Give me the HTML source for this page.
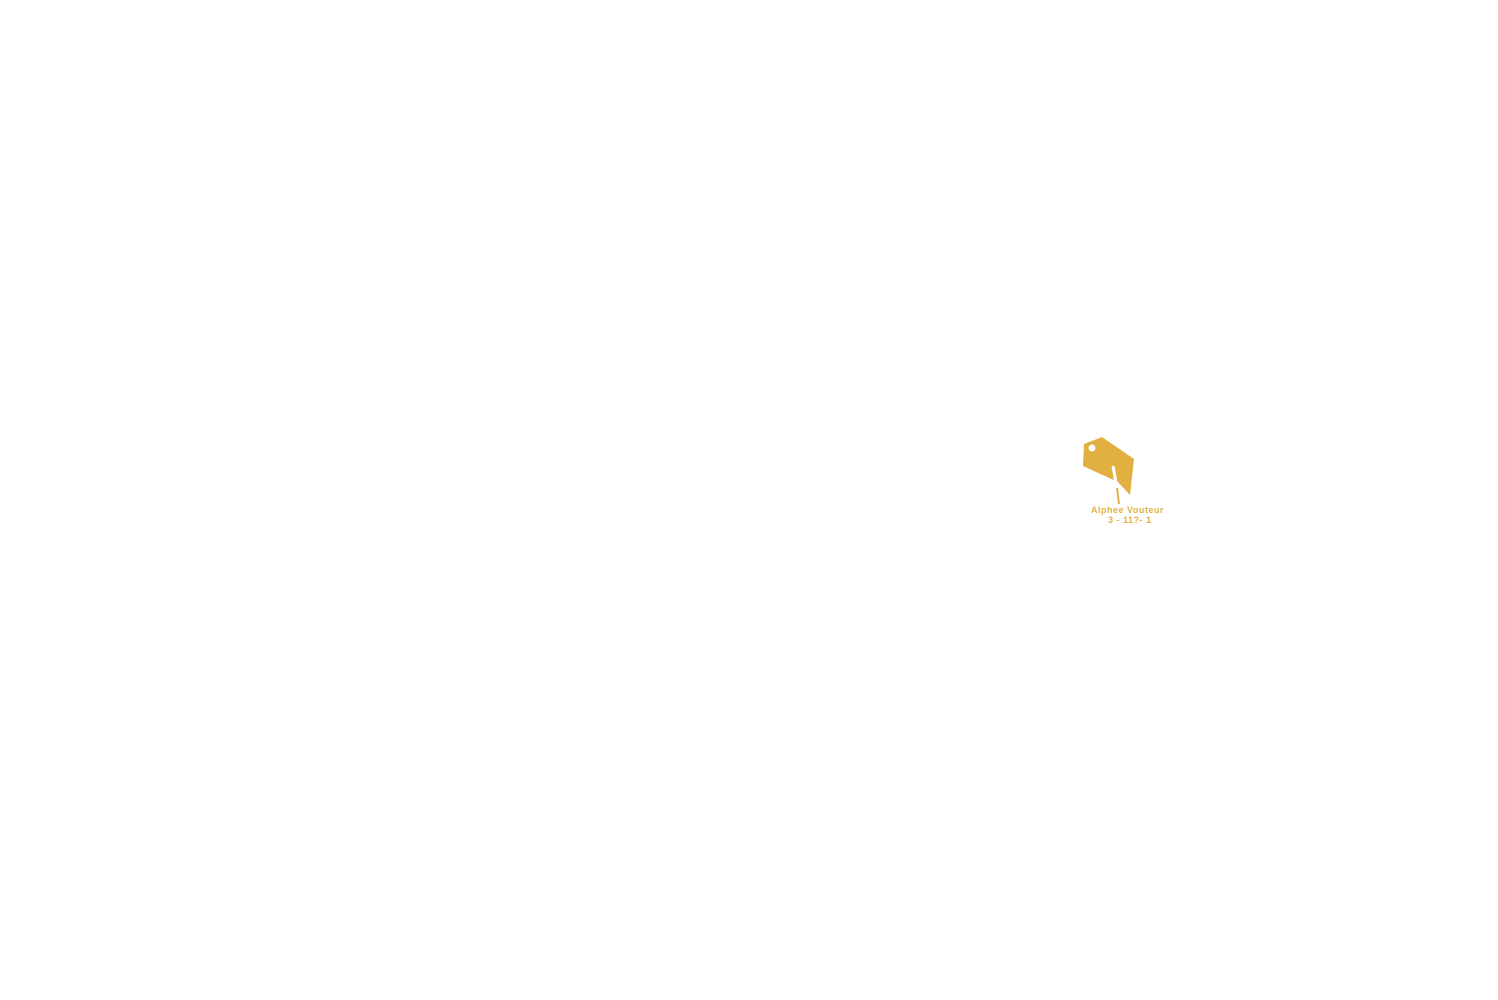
<!DOCTYPE html>
<html><head><meta charset="utf-8"><style>
html,body{margin:0;padding:0;background:#fff;}
body{width:1498px;height:1000px;position:relative;overflow:hidden;}
.t{position:absolute;font-family:"Liberation Sans",sans-serif;font-weight:bold;color:#e2b040;font-size:9px;white-space:nowrap;letter-spacing:0.5px;}
</style></head><body>
<svg width="1498" height="1000" style="position:absolute;left:0;top:0">
<polygon points="1084,444 1102,437 1134,459 1130,495 1118,482 1083,466" fill="#e2b040"/>
<circle cx="1092" cy="448" r="3.5" fill="#fff"/>
<path d="M1113,466 L1116,483 L1119,503" stroke="#fff" stroke-width="3" fill="none"/>
<path d="M1117,488 L1119,504" stroke="#e2b040" stroke-width="2" fill="none"/>
</svg>
<div class="t" style="left:1091px;top:505px;">Alphee Vouteur</div>
<div class="t" style="left:1108px;top:515px;">3 - 11?- 1</div>
</body></html>
